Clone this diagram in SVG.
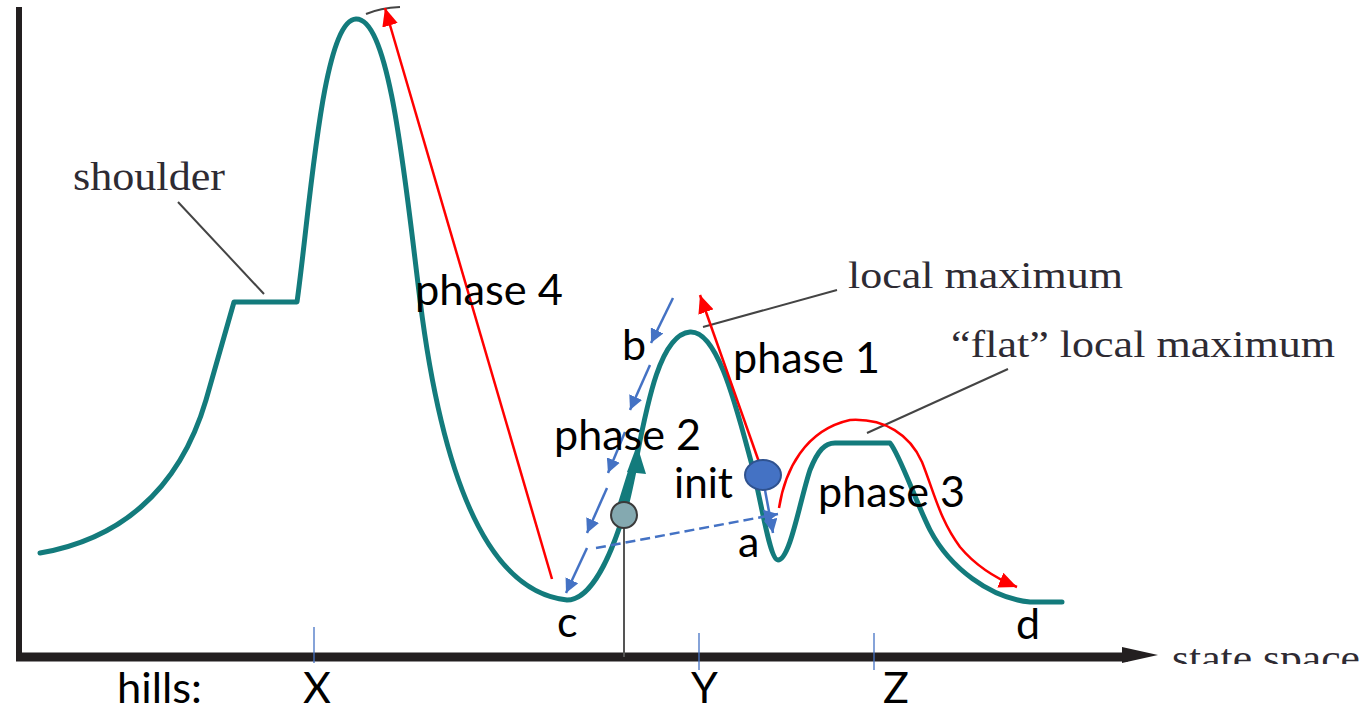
<svg xmlns="http://www.w3.org/2000/svg" width="1365" height="712" viewBox="0 0 1365 712">
  <style>
    .axis { stroke: #231f20; fill: none; }
    .land { stroke: #137b7c; stroke-width: 5; fill: none; stroke-linejoin: round; stroke-linecap: round; }
    .leader { stroke: #444; stroke-width: 2; fill: none; }
    .red { stroke: #ff0000; stroke-width: 2.5; fill: none; }
    .blue { stroke: #4472c4; stroke-width: 2.5; fill: none; }
    .tick { stroke: #4472c4; stroke-width: 1.3; }
    .serif { font-family: "Liberation Serif", "Times New Roman", serif; fill: #2e2b33; }
    .sans { font-family: Lato, "Liberation Sans", Arial, sans-serif; font-size: 43px; fill: #000; }
  </style>
  <defs>
    <marker id="redHead" markerUnits="userSpaceOnUse" markerWidth="20" markerHeight="16" refX="18" refY="8" orient="auto">
      <path d="M0,0 L18,8 L0,16 Z" fill="#ff0000"/>
    </marker>
    <marker id="blueHead" markerUnits="userSpaceOnUse" markerWidth="16" markerHeight="14" refX="14" refY="7" orient="auto">
      <path d="M0,0 L14,7 L0,14 Z" fill="#4472c4"/>
    </marker>
    <clipPath id="ssClip"><rect x="1160" y="630" width="205" height="34"/></clipPath>
  </defs>
  <rect width="1365" height="712" fill="#ffffff"/>

  <g id="axes">
    <line class="axis" x1="19" y1="7" x2="19" y2="660" stroke-width="6"/>
    <line class="axis" x1="16" y1="657" x2="1128" y2="657" stroke-width="9"/>
    <path d="M1122,647 L1158,655 L1122,663 Z" fill="#231f20"/>
    <text class="serif" x="1172" y="671" font-size="38" textLength="188" lengthAdjust="spacingAndGlyphs" clip-path="url(#ssClip)">state space</text>
  </g>

  <g id="ticks">
    <line class="tick" x1="314" y1="627" x2="314" y2="663"/>
    <line class="tick" x1="699" y1="633" x2="699" y2="670"/>
    <line class="tick" x1="874" y1="633" x2="874" y2="670"/>
  </g>

  <g id="landscape">
    <path class="land" d="M40,553 C115,540 178,495 206,400 L234,302 L297,302 C310,210 322,20 356,19 C390,18 405,180 420,300 C435,420 470,590 567,600 C590,600 610,560 625,510 C640,460 650,335 690,332 C718,330 737,410 752,465 C763,510 770,560 778,560 C790,560 800,500 810,470 C818,450 825,443 835,443 L890,443 C900,455 915,500 930,530 C950,568 990,598 1030,602 L1062,602"/>
  </g>

  <g id="leaders">
    <line class="leader" x1="178" y1="202" x2="264" y2="294"/>
    <line class="leader" x1="837" y1="290" x2="703" y2="327"/>
    <line class="leader" x1="1008" y1="369" x2="867" y2="433"/>
    <path class="leader" d="M366,14 Q380,8 400,7"/>
  </g>

  <g id="labels-serif">
    <text id="shoulder" class="serif" x="73" y="190" font-size="40" textLength="152" lengthAdjust="spacingAndGlyphs">shoulder</text>
    <text id="local-maximum" class="serif" x="848" y="288" font-size="38" textLength="275" lengthAdjust="spacingAndGlyphs">local maximum</text>
    <text id="flat-local-maximum" class="serif" x="951" y="357" font-size="38" textLength="384" lengthAdjust="spacingAndGlyphs">“flat” local maximum</text>
  </g>

  <g id="connectors">
    <line id="phase4-arrow" class="red" x1="552" y1="579" x2="385" y2="8" marker-end="url(#redHead)"/>
    <line id="phase1-arrow" class="red" x1="759" y1="462" x2="700" y2="295" marker-end="url(#redHead)"/>
    <path id="phase3-arrow" class="red" d="M779,508 C785,470 805,430 850,420 C885,418 910,435 922,462 C935,495 940,520 960,547 C975,565 995,578 1017,587" marker-end="url(#redHead)"/>
    <line class="blue" x1="673" y1="298" x2="651" y2="343" marker-end="url(#blueHead)"/>
    <line class="blue" x1="650" y1="365" x2="630" y2="410" marker-end="url(#blueHead)"/>
    <line class="blue" x1="625" y1="432" x2="608" y2="473" marker-end="url(#blueHead)"/>
    <line class="blue" x1="607" y1="488" x2="587" y2="533" marker-end="url(#blueHead)"/>
    <line class="blue" x1="587" y1="548" x2="566" y2="593" marker-end="url(#blueHead)"/>
    <line class="blue" x1="596" y1="548" x2="778" y2="514" stroke-dasharray="10,5" marker-end="url(#blueHead)"/>
    <line class="blue" x1="765" y1="490" x2="773" y2="533" marker-end="url(#blueHead)"/>
    <line x1="621" y1="505" x2="632" y2="470" stroke="#137b7c" stroke-width="7"/>
    <path d="M637,445 L646,474 L627,472 Z" fill="#137b7c"/>
    <line x1="624" y1="528" x2="624" y2="657" stroke="#555" stroke-width="2"/>
  </g>

  <g id="start-point">
    <circle cx="624" cy="515" r="13" fill="#84a9b0" stroke="#3a3a3a" stroke-width="2"/>
  </g>
  <g id="init-point">
    <ellipse cx="763" cy="475" rx="18" ry="15" fill="#4472c4" stroke="#2f528f" stroke-width="2"/>
  </g>

  <g id="labels-sans">
    <text class="sans" x="415" y="305" textLength="148" lengthAdjust="spacingAndGlyphs">phase 4</text>
    <text class="sans" x="733" y="373" textLength="147" lengthAdjust="spacingAndGlyphs">phase 1</text>
    <text class="sans" x="622" y="360">b</text>
    <text class="sans" x="554" y="450" textLength="147" lengthAdjust="spacingAndGlyphs">phase 2</text>
    <text class="sans" x="674" y="498" textLength="59" lengthAdjust="spacingAndGlyphs">init</text>
    <text class="sans" x="818" y="507" textLength="147" lengthAdjust="spacingAndGlyphs">phase 3</text>
    <text class="sans" x="738" y="557">a</text>
    <text class="sans" x="557" y="637">c</text>
    <text class="sans" x="1016" y="639">d</text>
    <text class="sans" x="117" y="703" textLength="85" lengthAdjust="spacingAndGlyphs">hills:</text>
    <text class="sans" x="303" y="703">X</text>
    <text class="sans" x="691" y="703">Y</text>
    <text class="sans" x="883" y="703">Z</text>
  </g>
</svg>
